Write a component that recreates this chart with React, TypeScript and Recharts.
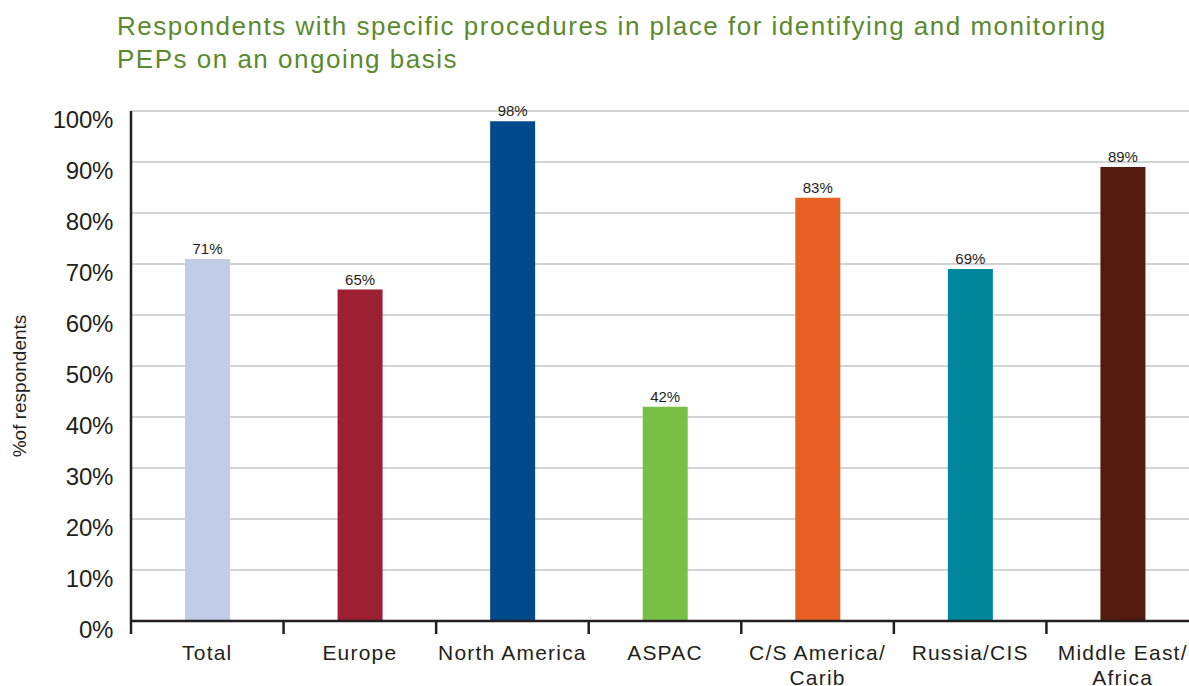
import { BarChart, Bar, XAxis, YAxis, CartesianGrid, Cell, LabelList } from 'recharts';

const regions = ['Total', 'Europe', 'North America', 'ASPAC', 'C/S America/\nCarib', 'Russia/CIS', 'Middle East/\nAfrica'];
const shares = [71, 65, 98, 42, 83, 69, 89];
const barColors = ['#c2cce6', '#9c1f32', '#004a8c', '#77c043', '#e86024', '#00879b', '#521b0c'];
const yTicks = [0, 10, 20, 30, 40, 50, 60, 70, 80, 90, 100];

const data = regions.map((region, i) => ({ region, share: shares[i] }));

const CHART_W = 1199;
const AXIS_W = 131;
const band = (CHART_W - AXIS_W) / regions.length;
const ink = '#231f20';
const font = "'Liberation Sans', Arial, sans-serif";

const RegionTick = (props: any) => {
  const { x, y, payload } = props;
  const lines = String(payload.value).split('\n');
  return (
    <g>
      <line x1={x - band / 2} x2={x - band / 2} y1={y} y2={y + 13} stroke={ink} strokeWidth={2.5} />
      <text x={x} y={y + 39} textAnchor="middle" fill={ink} fontSize={21} letterSpacing={1.2} fontFamily={font}>
        {lines.map((line, i) => (
          <tspan key={i} x={x} dy={i === 0 ? 0 : 25}>{line}</tspan>
        ))}
      </text>
    </g>
  );
};

const PercentTick = (props: any) => {
  const { x, y, payload } = props;
  return (
    <text x={x} y={y + 8} dy="0.355em" textAnchor="end" fill={ink} fontSize={24} letterSpacing={-0.3} fontFamily={font}>
      {`${payload.value}%`}
    </text>
  );
};

const App = () => {
  return (
    <div style={{ position: 'fixed', left: 0, top: 0, width: 1189, height: 686, overflow: 'hidden', background: '#fff', fontFamily: font }}>
      <div style={{ position: 'absolute', left: 117, top: 10, fontSize: 26, lineHeight: '33px', letterSpacing: 1.5, color: '#5b8a2e', whiteSpace: 'nowrap' }}>
        Respondents with specific procedures in place for identifying and monitoring
        <br />
        PEPs on an ongoing basis
      </div>
      <div style={{ position: 'absolute', left: 20, top: 386, transform: 'translate(-50%, -50%) rotate(-90deg)', fontSize: 19, color: ink, whiteSpace: 'nowrap' }}>
        %of respondents
      </div>
      <BarChart width={CHART_W} height={686} data={data} margin={{ top: 111, right: 0, left: 0, bottom: 0 }}>
        <CartesianGrid vertical={false} stroke="#c6c6c6" strokeWidth={1.5} />
        <XAxis
          dataKey="region"
          height={65}
          interval={0}
          tickLine={false}
          tickSize={0}
          tickMargin={0}
          axisLine={{ stroke: ink, strokeWidth: 2.5 }}
          tick={<RegionTick />}
        />
        <YAxis
          width={AXIS_W}
          domain={[0, 100]}
          ticks={yTicks}
          interval={0}
          tickLine={false}
          tickSize={10}
          tickMargin={8}
          axisLine={{ stroke: ink, strokeWidth: 2.5 }}
          tick={<PercentTick />}
        />
        <Bar dataKey="share" barSize={45} isAnimationActive={false}>
          {data.map((_, i) => (
            <Cell key={i} fill={barColors[i]} />
          ))}
          <LabelList
            dataKey="share"
            position="top"
            offset={5}
            formatter={(v: any) => `${v}%`}
            style={{ fill: ink, fontSize: 15, fontFamily: font }}
          />
        </Bar>
      </BarChart>
    </div>
  );
};

export default App;
